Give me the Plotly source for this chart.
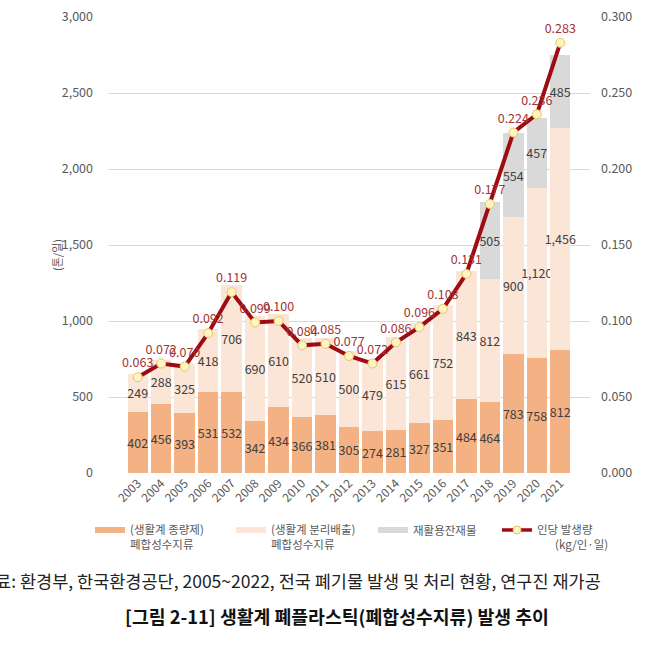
import plotly.graph_objects as go

years = [str(y) for y in range(2003, 2022)]
jongryang = [402, 456, 393, 531, 532, 342, 434, 366, 381, 305, 274, 281, 327, 351, 484, 464, 783, 758, 812]
bunri = [249, 288, 325, 418, 706, 690, 610, 520, 510, 500, 479, 615, 661, 752, 843, 812, 900, 1120, 1456]
janjae = [None] * 15 + [505, 554, 457, 485]
per_capita = [0.063, 0.072, 0.070, 0.092, 0.119, 0.099, 0.100, 0.084, 0.085, 0.077, 0.072,
              0.086, 0.096, 0.108, 0.131, 0.177, 0.224, 0.236, 0.283]

left_ticks = [0, 500, 1000, 1500, 2000, 2500, 3000]
right_ticks = [0, 0.05, 0.10, 0.15, 0.20, 0.25, 0.30]

C_ORANGE = "#F4B183"
C_PEACH = "#FBE5D6"
C_GRAY = "#D9D9D9"
C_LINE = "#9E0B12"
FONT = "Noto Sans CJK KR"
TXT = "#404040"
TICK = "#595959"

L, T, W, H = 108, 17, 482, 456


def px_x(p):
    return (p - L) / W


def px_y(p):
    return (T + H - p) / H


def fmt(vals):
    return [("" if v is None else f"{v:,}") for v in vals]


fig = go.Figure()

for vals, col in [(jongryang, C_ORANGE), (bunri, C_PEACH), (janjae, C_GRAY)]:
    fig.add_trace(go.Bar(
        x=years, y=vals, marker=dict(color=col, line=dict(width=0)),
        text=fmt(vals), textposition="inside", insidetextanchor="middle",
        textangle=0, constraintext="none",
        insidetextfont=dict(color=TXT, size=12.5, family=FONT),
        showlegend=False, hoverinfo="skip",
    ))

fig.add_trace(go.Scatter(
    x=years, y=per_capita, yaxis="y2", mode="lines+markers+text",
    line=dict(color=C_LINE, width=4),
    marker=dict(size=9, color="#FFF3C4", line=dict(color="#E8C860", width=1)),
    text=[f"{v:.3f}" for v in per_capita], textposition="top center",
    textfont=dict(color="#A23434", size=12.5, family=FONT),
    showlegend=False, hoverinfo="skip",
))

legend_items = [
    ("(생활계 종량제)<br>폐합성수지류", C_ORANGE, "bar", "legend", 90),
    ("(생활계 분리배출)<br>폐합성수지류", C_PEACH, "bar", "legend2", 231),
    ("재활용잔재물", C_GRAY, "bar", "legend3", 373),
    ("인당 발생량<br>       (kg/인·일)", C_LINE, "line", "legend4", 497),
]

legend_layout = {}
for name, col, kind, lg, xpx in legend_items:
    if kind == "bar":
        tr = go.Scatter(x=[None], y=[None], mode="lines", name=name,
                        line=dict(color=col, width=6), showlegend=True, legend=lg)
    else:
        tr = go.Scatter(x=[None], y=[None], mode="lines+markers", name=name,
                        line=dict(color=col, width=3.5),
                        marker=dict(size=8, color="#FFF3C4", line=dict(color="#E8C860", width=1)),
                        showlegend=True, legend=lg)
    fig.add_trace(tr)
    legend_layout[lg] = dict(orientation="v", x=px_x(xpx), xanchor="left",
                             y=px_y(516), yanchor="top", valign="top",
                             font=dict(size=11.5, color=TICK, family=FONT),
                             itemwidth=30, bgcolor="rgba(0,0,0,0)")

fig.update_layout(
    width=658, height=648,
    margin=dict(l=L, r=658 - L - W, t=T, b=648 - T - H),
    paper_bgcolor="white", plot_bgcolor="white",
    barmode="stack", bargap=0.13,
    font=dict(family=FONT, color=TICK),
    xaxis=dict(type="category", tickangle=-45, tickfont=dict(size=12, color=TICK),
               showgrid=False, showline=False, ticks="", automargin=False),
    yaxis=dict(range=[0, 3000], tickvals=left_ticks, tickformat=",",
               tickfont=dict(size=12.5, color=TICK), showgrid=True, gridcolor="#D9D9D9",
               gridwidth=1, zeroline=False, showline=False, ticks="", ticklabelstandoff=14,
               automargin=False),
    yaxis2=dict(range=[0, 0.3], tickvals=right_ticks, tickformat=".3f", overlaying="y",
                side="right", showgrid=False, zeroline=False, showline=False,
                tickfont=dict(size=12.5, color=TICK), ticklabelstandoff=10, automargin=False),
    showlegend=True,
    **legend_layout,
)

fig.add_annotation(text="(톤/일)", xref="paper", yref="paper", x=px_x(47), y=px_y(255),
                   textangle=-90, showarrow=False, font=dict(size=11, color=TICK, family=FONT))
fig.add_annotation(text="자료: 환경부, 한국환경공단, 2005~2022, 전국 폐기물 발생 및 처리 현황, 연구진 재가공",
                   xref="paper", yref="paper", x=px_x(603), xanchor="right",
                   y=px_y(580), yanchor="middle", showarrow=False,
                   font=dict(size=17.5, color="#222222", family=FONT))
fig.add_annotation(text="<b>[그림 2-11] 생활계 폐플라스틱(폐합성수지류) 발생 추이</b>",
                   xref="paper", yref="paper", x=px_x(337), xanchor="center",
                   y=px_y(616), yanchor="middle", showarrow=False,
                   font=dict(size=18.3, color="#111111", family=FONT))

fig.write_html("out.html", config={"displayModeBar": False},
               post_script="document.body.style.margin='0';")
